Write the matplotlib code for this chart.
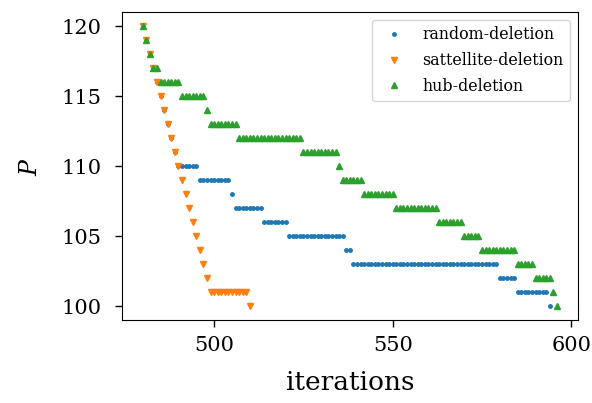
import numpy as np
import matplotlib
matplotlib.use("Agg")
import matplotlib.pyplot as plt
from matplotlib.ticker import MultipleLocator

plt.rcParams['font.family'] = 'DejaVu Serif'
plt.rcParams['mathtext.fontset'] = 'dejavuserif'

# P values at every iteration, starting at iteration 480
random_P = [120, 119, 118, 117, 116, 115, 114, 113, 112, 111,
            110, 110, 110, 110, 110, 110,
            109, 109, 109, 109, 109, 109, 109, 109, 109,
            108,
            107, 107, 107, 107, 107, 107, 107, 107,
            106, 106, 106, 106, 106, 106, 106,
            105, 105, 105, 105, 105, 105, 105, 105, 105, 105, 105, 105, 105, 105, 105, 105,
            104, 104,
            103, 103, 103, 103, 103, 103, 103, 103, 103, 103, 103, 103, 103, 103,
            103, 103, 103, 103, 103, 103, 103, 103, 103, 103, 103, 103, 103, 103,
            103, 103, 103, 103, 103, 103, 103, 103, 103, 103, 103, 103, 103,
            102, 102, 102, 102, 102,
            101, 101, 101, 101, 101, 101, 101, 101, 101,
            100]

satellite_P = [120, 119, 118, 117, 116, 115, 114, 113, 112, 111,
               110, 109, 108, 107, 106, 105, 104, 103, 102,
               101, 101, 101, 101, 101, 101, 101, 101, 101, 101, 101,
               100]

hub_P = [120, 119, 118, 117, 117,
         116, 116, 116, 116, 116, 116,
         115, 115, 115, 115, 115, 115, 115,
         114,
         113, 113, 113, 113, 113, 113, 113, 113,
         112, 112, 112, 112, 112, 112, 112, 112, 112, 112, 112, 112, 112, 112, 112, 112, 112, 112,
         111, 111, 111, 111, 111, 111, 111, 111, 111, 111,
         110,
         109, 109, 109, 109, 109, 109,
         108, 108, 108, 108, 108, 108, 108, 108, 108,
         107, 107, 107, 107, 107, 107, 107, 107, 107, 107, 107, 107,
         106, 106, 106, 106, 106, 106, 106,
         105, 105, 105, 105, 105,
         104, 104, 104, 104, 104, 104, 104, 104, 104, 104,
         103, 103, 103, 103, 103,
         102, 102, 102, 102, 102,
         101,
         100]

start_iter = 480

fig = plt.figure(figsize=(5.92, 4.03), dpi=100)
ax = fig.add_subplot(111)
fig.subplots_adjust(left=0.206, right=0.976, top=0.970, bottom=0.205)

ax.plot(start_iter + np.arange(len(random_P)), random_P, '.', markersize=5,
        label='random-deletion')
ax.plot(start_iter + np.arange(len(satellite_P)), satellite_P, 'v', markersize=4.8,
        label='sattellite-deletion')
ax.plot(start_iter + np.arange(len(hub_P)), hub_P, '^', markersize=4.8,
        label='hub-deletion')

ax.xaxis.set_major_locator(MultipleLocator(50))
ax.set_xlabel('iterations', fontsize=19, labelpad=11)
ax.set_ylabel('$P$', fontsize=17, labelpad=14)
ax.tick_params(labelsize=15, length=5, width=1)
ax.tick_params(axis='y', pad=10)
ax.tick_params(axis='x', pad=6)
ax.legend(fontsize=11.4, loc='upper right', labelspacing=0.55)

plt.savefig('out.png')
